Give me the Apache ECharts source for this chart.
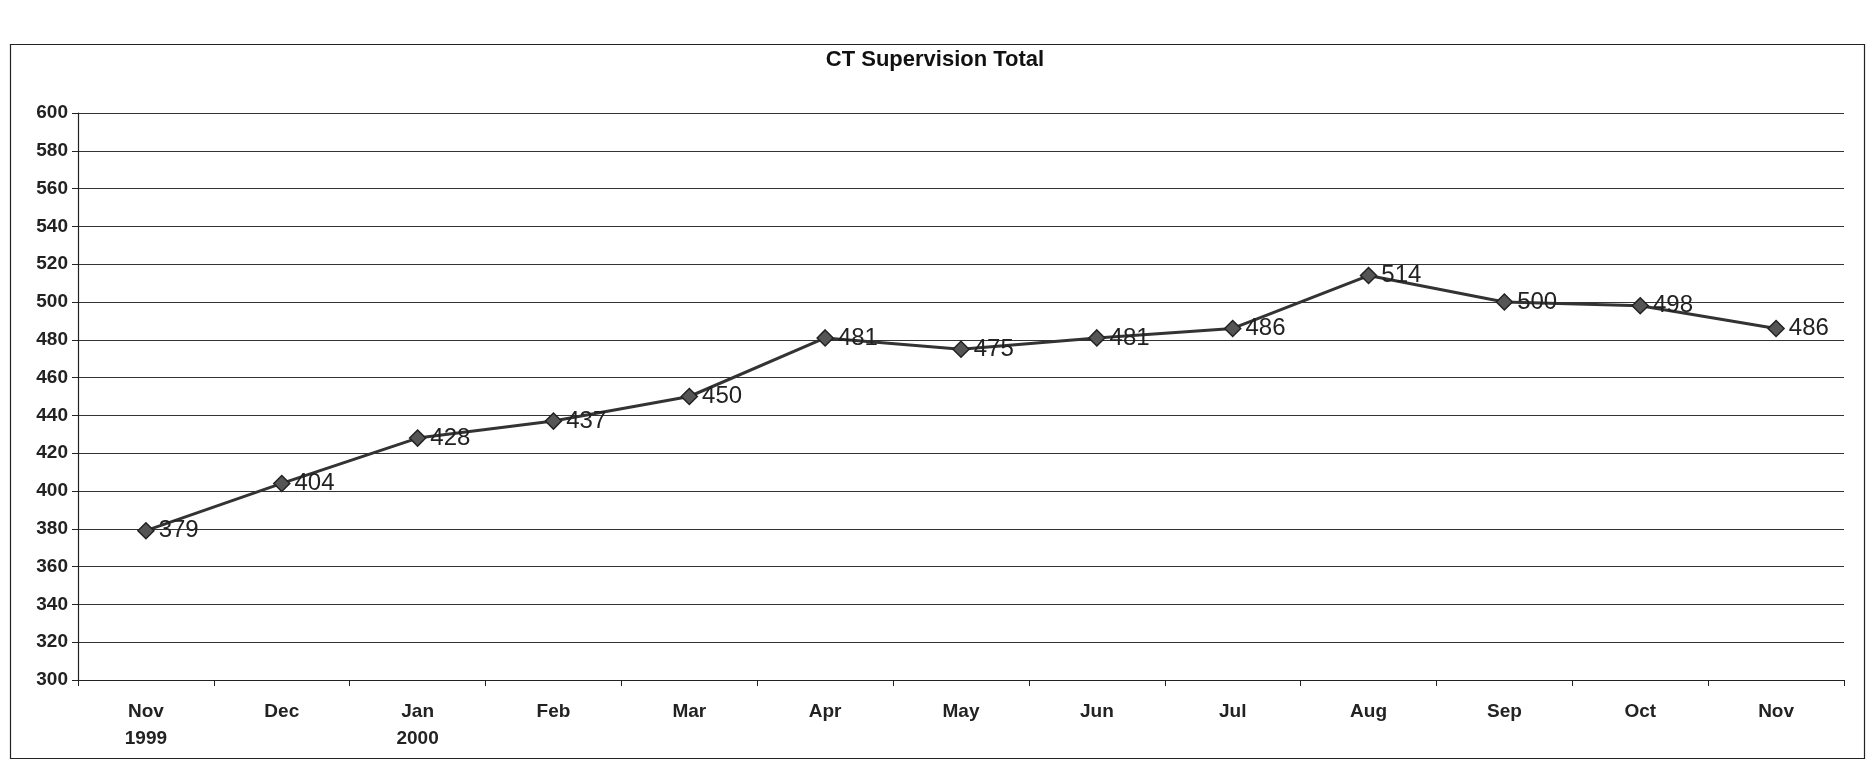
<!DOCTYPE html>
<html>
<head>
<meta charset="utf-8">
<script src="https://cdn.jsdelivr.net/npm/echarts@6/dist/echarts.min.js"></script>
<style>
html,body{margin:0;padding:0;background:#fff;}
#c{width:1870px;height:760px;}
</style>
</head>
<body>
<div id="c"></div>
<script>
const titleText = 'CT Supervision Total';
const categories = ['Nov\n1999','Dec','Jan\n2000','Feb','Mar','Apr','May','Jun','Jul','Aug','Sep','Oct','Nov'];
const totals = [379,404,428,437,450,481,475,481,486,514,500,498,486];
const yMin = 300, yMax = 600, yStep = 20;

const chart = echarts.init(document.getElementById('c'), null, {renderer:'canvas'});
chart.setOption({
  animation:false,
  backgroundColor:'#fff',
  title:{
    text:titleText, left:'center', top:44,
    textStyle:{fontFamily:'Liberation Sans, Arial', fontWeight:'bold', fontSize:22, color:'#111'}
  },
  graphic:[{
    type:'rect', left:8, top:42, shape:{width:1854, height:714},
    style:{fill:'none', stroke:'#222', lineWidth:1.2}, silent:true, z:-1
  }],
  grid:{left:78, right:26, top:113, bottom:80, containLabel:false},
  xAxis:{
    type:'category', data:categories, boundaryGap:true,
    axisLine:{lineStyle:{color:'#222', width:1.2}},
    axisTick:{show:true, alignWithLabel:false, length:6, lineStyle:{color:'#222'}},
    axisLabel:{fontFamily:'Liberation Sans, Arial', fontWeight:'bold', fontSize:19, color:'#222', margin:18, lineHeight:27},
    splitLine:{show:false}
  },
  yAxis:{
    type:'value', min:yMin, max:yMax, interval:yStep,
    axisLine:{show:true, lineStyle:{color:'#222', width:1.2}},
    axisTick:{show:true, length:6, lineStyle:{color:'#222'}},
    axisLabel:{fontFamily:'Liberation Sans, Arial', fontWeight:'bold', fontSize:19, color:'#222', margin:10},
    splitLine:{show:true, lineStyle:{color:'#333', width:1.1}}
  },
  series:[{
    type:'line', data:totals,
    symbol:'diamond', symbolSize:16,
    lineStyle:{color:'#333', width:3},
    itemStyle:{color:'#555', borderColor:'#222', borderWidth:1.5},
    label:{show:true, position:'right', distance:4, fontFamily:'Liberation Sans, Arial', fontSize:24, color:'#222'}
  }]
});
</script>
</body>
</html>
